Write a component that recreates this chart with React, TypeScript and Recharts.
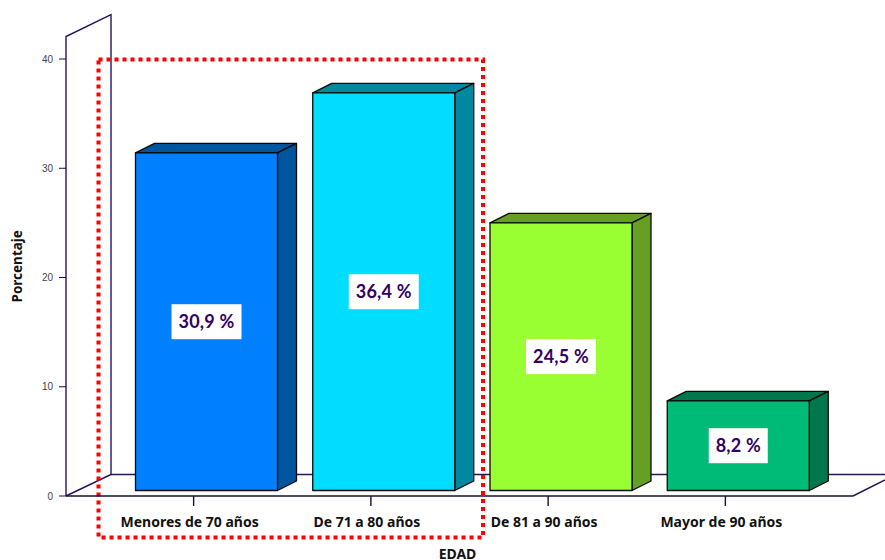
import { BarChart, Bar, XAxis, YAxis, LabelList } from "recharts";

const ageGroups = ["Menores de 70 años", "De 71 a 80 años", "De 81 a 90 años", "Mayor de 90 años"];
const percentages = [30.9, 36.4, 24.5, 8.2];
const frontColors = ["#0080FF", "#00DDFF", "#99FF33", "#00BB77"];
const sideColors = ["#00559F", "#0088A0", "#66A022", "#00774D"];
const yTicks = [0, 10, 20, 30, 40];

const chartData = ageGroups.map((group, i) => ({ group, percent: percentages[i] }));

// the front face sits a little right of the tick and above the floor edge
const SHIFT_X = 12.5;
const SHIFT_Y = -5.5;
const DEPTH_X = 19;
const DEPTH_Y = -9.5;
const WALL = "#2A1458";

function Box3D(props: any) {
  const { x, y, width, height, index } = props;
  const l = x + SHIFT_X;
  const r = l + width;
  const t = y + SHIFT_Y;
  const b = t + height;
  const side = sideColors[index];
  return (
    <g stroke="#0A0A0A" strokeWidth={1.3} strokeLinejoin="round">
      <polygon
        fill={side}
        points={`${l},${t} ${l + DEPTH_X},${t + DEPTH_Y} ${r + DEPTH_X},${t + DEPTH_Y} ${r},${t}`}
      />
      <polygon
        fill={side}
        points={`${r},${t} ${r + DEPTH_X},${t + DEPTH_Y} ${r + DEPTH_X},${b + DEPTH_Y} ${r},${b}`}
      />
      <rect x={l} y={t} width={width} height={height} fill={frontColors[index]} />
    </g>
  );
}

function ValueTag(props: any) {
  const { x, y, width, height, value } = props;
  const text = `${Number(value).toFixed(1).replace(".", ",")} %`;
  const boxW = text.length > 5 ? 70 : 59;
  const cx = x + SHIFT_X + width / 2;
  const cy = y + SHIFT_Y + height / 2;
  return (
    <g>
      <rect x={cx - boxW / 2} y={cy - 17.5} width={boxW} height={35} fill="#FFFFFF" />
      <text
        x={cx}
        y={cy + 1.5}
        textAnchor="middle"
        dominantBaseline="middle"
        fontFamily="Lato"
        fontWeight={700}
        fontSize={18}
        letterSpacing={0.2}
        fill="#330066"
      >
        {text}
      </text>
    </g>
  );
}

export default function App() {
  return (
    <div style={{ position: "absolute", left: 0, top: 0, width: 885, height: 560, background: "#fff" }}>
      <BarChart
        width={885}
        height={560}
        data={chartData}
        barSize={142}
        margin={{ top: 59, right: 32, bottom: 0, left: 36 }}
      >
        {/* back wall and floor */}
        <g fill="none" stroke={WALL} strokeWidth={1.4}>
          <polyline points="66,496 66,36.5 111,14.5 111,474.5 66,496" />
          <polyline points="111,474.5 885,474.5" />
          <polyline points="853,496 885,480" />
        </g>
        <XAxis
          dataKey="group"
          interval={0}
          height={64}
          padding={{ left: 39, right: 39 }}
          stroke="#1A0F33"
          strokeWidth={1.4}
          tickSize={10}
          tickMargin={11}
          tick={{ fontFamily: "Noto Sans", fontWeight: 700, fontSize: 14, fill: "#111111", dx: -4 }}
          label={{
            value: "EDAD",
            position: "insideBottom",
            offset: 0,
            dx: -2,
            dy: -1,
            fontFamily: "Noto Sans",
            fontWeight: 700,
            fontSize: 14,
            fill: "#111111",
          }}
        />
        <YAxis
          width={30}
          domain={[0, 40]}
          ticks={yTicks}
          axisLine={false}
          stroke="#1A0F33"
          tickSize={7}
          tickMargin={6}
          tick={{ fontFamily: "Liberation Sans", fontSize: 10, fill: "#444444" }}
          label={{
            value: "Porcentaje",
            angle: -90,
            position: "insideLeft",
            dx: -24,
            dy: 25,
            fontFamily: "Noto Sans",
            fontWeight: 700,
            fontSize: 13.5,
            fill: "#111111",
          }}
        />
        <Bar dataKey="percent" isAnimationActive={false} shape={Box3D}>
          <LabelList dataKey="percent" content={ValueTag} />
        </Bar>
        {/* highlighted age range */}
        <rect
          x={98.5}
          y={59.5}
          width={384.5}
          height={478}
          fill="none"
          stroke="#FF0000"
          strokeWidth={4}
          strokeDasharray="4 4"
        />
      </BarChart>
    </div>
  );
}
